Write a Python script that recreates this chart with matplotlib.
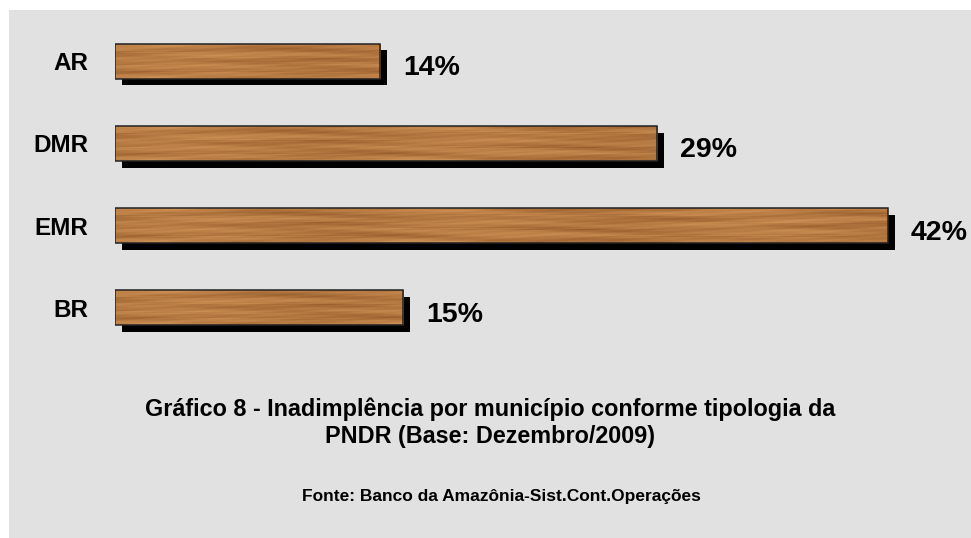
import numpy as np
import matplotlib.pyplot as plt
from matplotlib.patches import Rectangle
import matplotlib.patheffects as pe

plt.rcParams['font.family'] = ['Liberation Sans', 'DejaVu Sans']

categorias = ['AR', 'DMR', 'EMR', 'BR']
valores = [14.25, 29.15, 41.55, 15.5]
rotulos = ['14%', '29%', '42%', '15%']

titulo = 'Gráfico 8 - Inadimplência por município conforme tipologia da\nPNDR (Base: Dezembro/2009)'
fonte = 'Fonte: Banco da Amazônia-Sist.Cont.Operações'

W, H = 971, 538
fig = plt.figure(figsize=(W / 100, H / 100), dpi=100)
fig.patch.set_facecolor('white')
fig.patches.append(Rectangle((9 / W, 0), 1 - 9 / W, 1 - 10 / H, transform=fig.transFigure,
                             facecolor='#e1e1e1', edgecolor='none', zorder=-5))

# axes: x=0 at pixel 115, ~18.6 px per percent; rows 82.3 px apart
ax = fig.add_axes([115 / W, (H - 350) / H, (971 - 115) / W, 330 / H])
ax.set_facecolor('none')

y = np.arange(len(categorias))
bars = ax.barh(y, valores, height=0.425, color='#b3773e', edgecolor='none', zorder=2,
               path_effects=[pe.SimplePatchShadow(offset=(5, -5), shadow_rgbFace='black', alpha=1),
                             pe.Normal()])

# wood texture (style only)
rows, cols = 30, 800
yy, xx = np.mgrid[0:rows, 0:cols]
g = (0.5 + 0.13 * np.sin(yy * 0.7 + 2 * np.sin(xx * 0.01))
     + 0.12 * np.sin(xx * 0.023 + 1.3 * np.sin(yy * 0.5))
     + 0.08 * np.sin(xx * 0.11 + yy * 1.7)
     + 0.08 * np.sin(yy * 2.9 + xx * 0.007)
     + 0.06 * np.sin(xx * 0.047 - yy * 0.9))
g = np.clip(g, 0, 1)
dark = np.array([0.58, 0.35, 0.16])
light = np.array([0.84, 0.60, 0.36])
tex = dark + (light - dark) * g[..., None]

for b in bars:
    x0, y0, w, h = b.get_x(), b.get_y(), b.get_width(), b.get_height()
    im = ax.imshow(tex[:, :int(cols * w / 45)], extent=(x0, x0 + w, y0 + h, y0),
                   aspect='auto', interpolation='bilinear', zorder=3)
    im.set_clip_path(b)
    ax.add_patch(Rectangle((x0, y0), w, h, facecolor='none', edgecolor='#222222',
                           linewidth=1.1, zorder=4))

for b, r in zip(bars, rotulos):
    ax.annotate(r, (b.get_width(), b.get_y() + b.get_height() / 2), xytext=(16.5, -5),
                textcoords='offset points', ha='left', va='center',
                fontsize=20.5, fontweight='bold')

ax.set_xlim(0, (971 - 115) / 18.6)
ax.set_ylim(3 + 42 / 82.3, -41 / 82.3)
ax.set_yticks(y, categorias, fontsize=17.5, fontweight='bold')
ax.tick_params(axis='y', length=0, pad=19)
ax.set_xticks([])
for s in ax.spines.values():
    s.set_visible(False)

fig.text(490 / W, 1 - 423 / H, titulo, ha='center', va='center', fontsize=16.8,
         fontweight='bold', linespacing=1.2)
fig.text(501 / W, 1 - 497 / H, fonte, ha='center', va='center', fontsize=12.5,
         fontweight='bold')

fig.savefig('out.png', dpi=100)
